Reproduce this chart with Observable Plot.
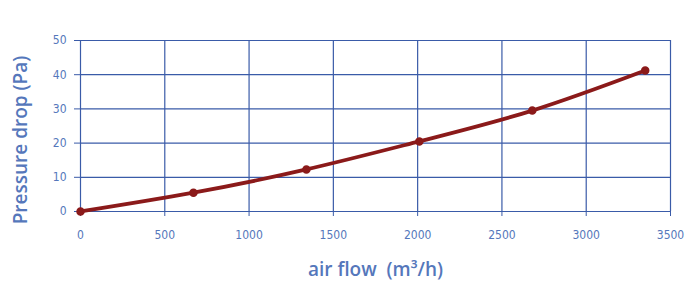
<!DOCTYPE html>
<html>
<head>
<meta charset="utf-8">
<script src="https://cdn.jsdelivr.net/npm/d3@7"></script>
<script src="https://cdn.jsdelivr.net/npm/@observablehq/plot@0.6"></script>
<style>
  body { margin: 0; background: #ffffff; }
  #chart svg { display: block; }
</style>
</head>
<body>
<div id="chart"></div>
<script>
const airflow = [0, 670, 1340, 2010, 2680, 3350];
const pressure = [0, 5.5, 12.3, 20.5, 29.5, 41.2];
const xTicks = [0, 500, 1000, 1500, 2000, 2500, 3000, 3500];
const yTicks = [0, 10, 20, 30, 40, 50];
const xLabel = "air flow  (m³/h)";
const yLabel = "Pressure drop (Pa)";

const data = airflow.map((x, i) => ({x, y: pressure[i]}));
const gridColor = "#3a5ba8";
const textColor = "#5577bb";
const lineColor = "#8b1a1a";

const chart = Plot.plot({
  width: 685,
  height: 293,
  marginLeft: 80,
  marginRight: 15,
  marginTop: 40,
  marginBottom: 82,
  style: {fontFamily: "'Liberation Sans Narrow', 'DejaVu Sans Condensed', sans-serif", fontSize: "12px", background: "#ffffff"},
  x: {domain: [0, 3500]},
  y: {domain: [0, 50]},
  marks: [
    Plot.gridX(xTicks, {stroke: gridColor, strokeOpacity: 1, strokeWidth: 1.2}),
    Plot.gridY(yTicks, {stroke: gridColor, strokeOpacity: 1, strokeWidth: 1.2}),
    Plot.axisX({ticks: xTicks, tickFormat: d => String(d), tickSize: 5, tickPadding: 14, stroke: gridColor, fill: textColor, label: null, fontSize: 12}),
    Plot.axisY({ticks: yTicks, tickFormat: d => String(d), tickSize: 6, tickPadding: 8, stroke: gridColor, fill: textColor, label: null, fontSize: 12}),
    Plot.line(data, {x: "x", y: "y", curve: "natural", stroke: lineColor, strokeWidth: 3.8}),
    Plot.dot(data, {x: "x", y: "y", r: 3.5, fill: lineColor, stroke: lineColor}),
    Plot.text([xLabel], {frameAnchor: "bottom", dy: 64, fill: textColor, fontSize: 19, fontFamily: "'Open Sans', sans-serif", fontWeight: 600}),
    Plot.text([yLabel], {frameAnchor: "left", textAnchor: "middle", dx: -60, dy: 14, rotate: -90, fill: textColor, fontSize: 19, fontFamily: "'Open Sans', sans-serif", fontWeight: 600})
  ]
});
document.getElementById("chart").appendChild(chart);
</script>
</body>
</html>
